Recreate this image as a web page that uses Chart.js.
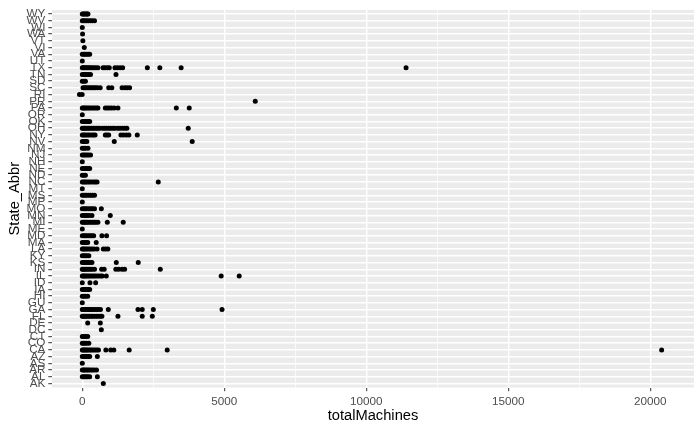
<!DOCTYPE html>
<html>
<head>
<meta charset="utf-8">
<script src="https://cdn.jsdelivr.net/npm/chart.js@4/dist/chart.umd.min.js"></script>
<style>
    body { margin: 0; background: #ffffff; }
</style>
</head>
<body>
<canvas id="grafico" width="700" height="432"></canvas>
<script>
// categorie (dal basso verso l'alto, come ggplot)
var states = ['AK', 'AL', 'AR', 'AS', 'AZ', 'CA', 'CO', 'CT', 'DC', 'DE',
    'FL', 'GA', 'GU', 'HI', 'IA', 'ID', 'IL', 'IN', 'KS', 'KY',
    'LA', 'MA', 'MD', 'ME', 'MI', 'MN', 'MO', 'MP', 'MS', 'MT',
    'NC', 'ND', 'NE', 'NH', 'NJ', 'NM', 'NV', 'NY', 'OH', 'OK',
    'OR', 'PA', 'PR', 'RI', 'SC', 'SD', 'TN', 'TX', 'UT', 'VA',
    'VI', 'VT', 'WA', 'WI', 'WV', 'WY'];

// totalMachines per ogni stato, stesso ordine di states
var machines = [
    [740],                                                   // AK
    [0, 40, 90, 140, 190, 260, 530],                         // AL
    [0, 40, 80, 130, 180, 230, 290, 350, 420, 500],          // AR
    [0],                                                     // AS
    [0, 50, 100, 160, 210, 260, 530],                        // AZ
    [0, 30, 60, 100, 140, 180, 230, 280, 330, 390, 450, 510, 570, 830, 1000, 1110, 1650, 2990, 20400], // CA
    [0, 40, 90, 150, 230],                                   // CO
    [0, 50, 110, 190],                                       // CT
    [670],                                                   // DC
    [190, 635],                                              // DE
    [0, 30, 60, 100, 150, 200, 250, 310, 370, 430, 500, 560, 630, 690, 1255, 2110, 2465], // FL
    [0, 30, 70, 110, 150, 200, 250, 310, 370, 430, 500, 570, 640, 915, 1960, 2110, 2500, 4920], // GA
    [0],                                                     // GU
    [0, 50, 110, 190],                                       // HI
    [0, 50, 100, 160, 210, 260],                             // IA
    [0, 270, 470],                                           // ID
    [0, 30, 70, 110, 160, 210, 260, 320, 380, 440, 500, 570, 640, 700, 845, 4890, 5525], // IL
    [0, 30, 70, 120, 170, 230, 290, 350, 430, 680, 770, 1180, 1280, 1400, 1490, 2745], // IN
    [0, 40, 90, 150, 210, 280, 340, 1197, 1970],             // KS
    [0, 50, 100, 160, 230],                                  // KY
    [0, 30, 70, 120, 170, 230, 290, 350, 420, 520, 740, 820, 900], // LA
    [0, 60, 120, 190, 490],                                  // MA
    [0, 50, 100, 160, 220, 280, 340, 400, 690, 855],         // MD
    [0],                                                     // ME
    [0, 40, 80, 130, 180, 240, 300, 360, 420, 480, 550, 880, 1440], // MI
    [0, 50, 110, 170, 240, 340, 985],                        // MN
    [0, 50, 100, 160, 230, 300, 360, 430, 670],              // MO
    [0],                                                     // MP
    [0, 50, 100, 160, 230, 300, 360, 430],                   // MS
    [0],                                                     // MT
    [0, 40, 90, 140, 200, 260, 330, 400, 460, 520, 2675],    // NC
    [0, 50, 110],                                            // ND
    [0, 50, 100, 160, 210, 260],                             // NE
    [0],                                                     // NH
    [0, 50, 100, 160, 220, 290],                             // NJ
    [0, 50, 110, 200],                                       // NM
    [0, 50, 100, 160, 1125, 3870],                           // NV
    [0, 40, 90, 140, 200, 260, 330, 390, 450, 810, 870, 930, 1360, 1450, 1550, 1640, 1935], // NY
    [0, 30, 70, 110, 160, 210, 260, 320, 380, 440, 500, 560, 620, 720, 790, 860, 930, 1000, 1080, 1150, 1250, 1330, 1420, 1500, 1570, 3730], // OH
    [0, 50, 100, 160, 210, 260],                             // OK
    [0],                                                     // OR
    [0, 30, 70, 110, 160, 210, 260, 320, 380, 440, 500, 550, 810, 880, 950, 1030, 1120, 1255, 3310, 3765], // PA
    [6090],                                                  // PR
    [-100, -5],                                              // RI
    [25, 70, 120, 170, 230, 290, 350, 410, 470, 540, 630, 930, 1040, 1400, 1500, 1580, 1665], // SC
    [0, 50, 110],                                            // SD
    [0, 50, 100, 160, 220, 290, 1185],                       // TN
    [0, 30, 60, 100, 140, 190, 240, 290, 350, 410, 480, 550, 730, 800, 880, 950, 1150, 1240, 1330, 1420, 2290, 2730, 3480, 11400], // TX
    [0],                                                     // UT
    [0, 40, 90, 140, 200, 260],                              // VA
    [70],                                                    // VI
    [20],                                                    // VT
    [10],                                                    // WA
    [0],                                                     // WI
    [0, 40, 90, 150, 210, 280, 350, 430],                    // WV
    [0, 30, 60, 100, 140, 170, 200]                          // WY
];

var xGrid = [0, 2500, 5000, 7500, 10000, 12500, 15000, 17500, 20000];
var xLabels = ['0', '5000', '10000', '15000', '20000'];

var fontFamily = "'Liberation Sans', Arial, sans-serif";

var punti = [];
states.forEach(function (st, i) {
    machines[i].forEach(function (v) {
        punti.push({ x: v, y: i });
    });
});

function isMajor(v) {
    return v % 5000 === 0;
}

// sfondo grigio del pannello
var sfondoPannello = {
    id: 'sfondoPannello',
    beforeDraw: function (chart) {
        var a = chart.chartArea;
        var c = chart.ctx;
        c.save();
        c.fillStyle = '#EBEBEB';
        c.fillRect(a.left, a.top, a.right - a.left, a.bottom - a.top);
        c.restore();
    }
};

var ctx = document.getElementById('grafico');

var myChart = new Chart(ctx, {
    type: 'scatter',
    data: {
        datasets: [{
            label: 'totalMachines',
            data: punti,
            backgroundColor: '#000000',
            borderWidth: 0,
            pointRadius: 2.5,
            pointHoverRadius: 2.5
        }]
    },
    plugins: [sfondoPannello],
    options: {
        responsive: false,
        animation: false,
        layout: {
            padding: { top: 6.5, right: 6, bottom: 0, left: 0 }
        },
        plugins: {
            legend: { display: false },
            tooltip: { enabled: false }
        },
        scales: {
            x: {
                type: 'linear',
                min: -1067,
                max: 21539,
                afterBuildTicks: function (scale) {
                    scale.ticks = xGrid.map(function (v) { return { value: v }; });
                },
                afterFit: function (scale) {
                    scale.height = 44.5;
                },
                border: { display: false },
                grid: {
                    color: '#FFFFFF',
                    lineWidth: function (c) { return isMajor(c.tick.value) ? 1.4 : 0.7; },
                    tickLength: 3.7,
                    tickWidth: 1,
                    tickColor: function (c) { return isMajor(c.tick.value) ? '#333333' : 'rgba(0,0,0,0)'; }
                },
                ticks: {
                    autoSkip: false,
                    maxRotation: 0,
                    padding: 4,
                    color: '#4D4D4D',
                    font: { family: fontFamily, size: 11.7 },
                    callback: function (v) {
                        return isMajor(v) ? xLabels[v / 5000] : '';
                    }
                },
                title: {
                    display: true,
                    text: 'totalMachines',
                    color: '#000000',
                    font: { family: fontFamily, size: 14.7 },
                    padding: { top: 0, bottom: 7.5 }
                }
            },
            y: {
                type: 'linear',
                min: -0.6,
                max: states.length - 0.4,
                afterBuildTicks: function (scale) {
                    scale.ticks = states.map(function (s, i) { return { value: i }; });
                },
                afterFit: function (scale) {
                    scale.width = 52;
                },
                border: { display: false },
                grid: {
                    color: '#FFFFFF',
                    lineWidth: 1.4,
                    tickLength: 3.7,
                    tickWidth: 1,
                    tickColor: '#333333'
                },
                ticks: {
                    autoSkip: false,
                    padding: 2.9,
                    color: '#4D4D4D',
                    font: { family: fontFamily, size: 11.7 },
                    callback: function (v) {
                        return states[v];
                    }
                },
                title: {
                    display: true,
                    text: 'State_Abbr',
                    color: '#000000',
                    font: { family: fontFamily, size: 14.7 },
                    padding: { top: 6, bottom: 0 }
                }
            }
        }
    }
});
</script>
</body>
</html>
